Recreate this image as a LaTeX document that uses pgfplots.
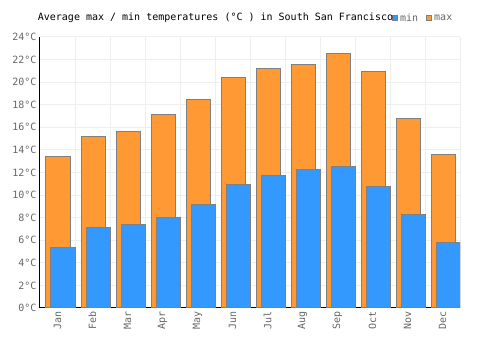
\documentclass[border=0pt]{standalone}
\usepackage{fontspec}
\setmainfont{DejaVu Sans Mono}
\usepackage{pgfplots}
\pgfplotsset{compat=1.18}
\definecolor{maxc}{HTML}{FF9933}
\definecolor{minc}{HTML}{3399FF}
\definecolor{edgec}{HTML}{808080}
\definecolor{gridc}{HTML}{EEEEEE}
\definecolor{labc}{HTML}{666666}
\begin{document}
\begin{tikzpicture}
\path[use as bounding box] (0pt,0pt) rectangle (500pt,350pt);
\begin{axis}[
  at={(40pt,42pt)}, anchor=south west,
  scale only axis, width=420pt, height=271pt,
  xmin=-0.5, xmax=11.5, ymin=0, ymax=24,
  ytick={0,2,...,24},
  xtick={0,...,11},
  xticklabels={Jan,Feb,Mar,Apr,May,Jun,Jul,Aug,Sep,Oct,Nov,Dec},
  minor xtick={-0.5,0.5,...,11.5},
  xminorgrids, ymajorgrids,
  major grid style={gridc, line width=1pt},
  minor grid style={gridc, line width=1pt},
  axis x line*=bottom, axis y line*=left,
  axis line style={black, line width=1pt, -},
  major tick length=0pt, minor tick length=0pt,
  tick label style={labc, font=\fontsize{10}{12}\selectfont},
  xticklabel style={rotate=90, anchor=east},
  yticklabel={\pgfmathprintnumber{\tick}°C},
  /pgf/number format/assume math mode=true,
  ybar, bar width=24pt,
  legend columns=2, reverse legend,
  legend style={at={(0.838,1.07)}, anchor=west, draw=none, fill=none,
    inner sep=0pt, font=\fontsize{10}{12}\selectfont, text=labc,
    /tikz/every even column/.append style={column sep=6pt}},
  legend image code/.code={\draw[#1] (0pt,-2.5pt) rectangle (5pt,2.5pt);},
]
\addplot[fill=maxc, draw=edgec, line width=1pt, bar shift=0.5pt] coordinates {
(0,13.4) (1,15.2) (2,15.6) (3,17.1) (4,18.5) (5,20.4) (6,21.2) (7,21.6) (8,22.5) (9,20.9) (10,16.8) (11,13.6)};
\addlegendentry{max}
\addplot[fill=minc, draw=edgec, line width=1pt, bar shift=5.5pt] coordinates {
(0,5.4) (1,7.1) (2,7.4) (3,8.0) (4,9.2) (5,10.9) (6,11.7) (7,12.3) (8,12.5) (9,10.8) (10,8.3) (11,5.8)};
\addlegendentry{min}
\end{axis}
\node[font=\fontsize{10}{12}\selectfont, anchor=center] at (215.5pt,332pt) {Average max / min temperatures (°C ) in South San Francisco};
\end{tikzpicture}
\end{document}
